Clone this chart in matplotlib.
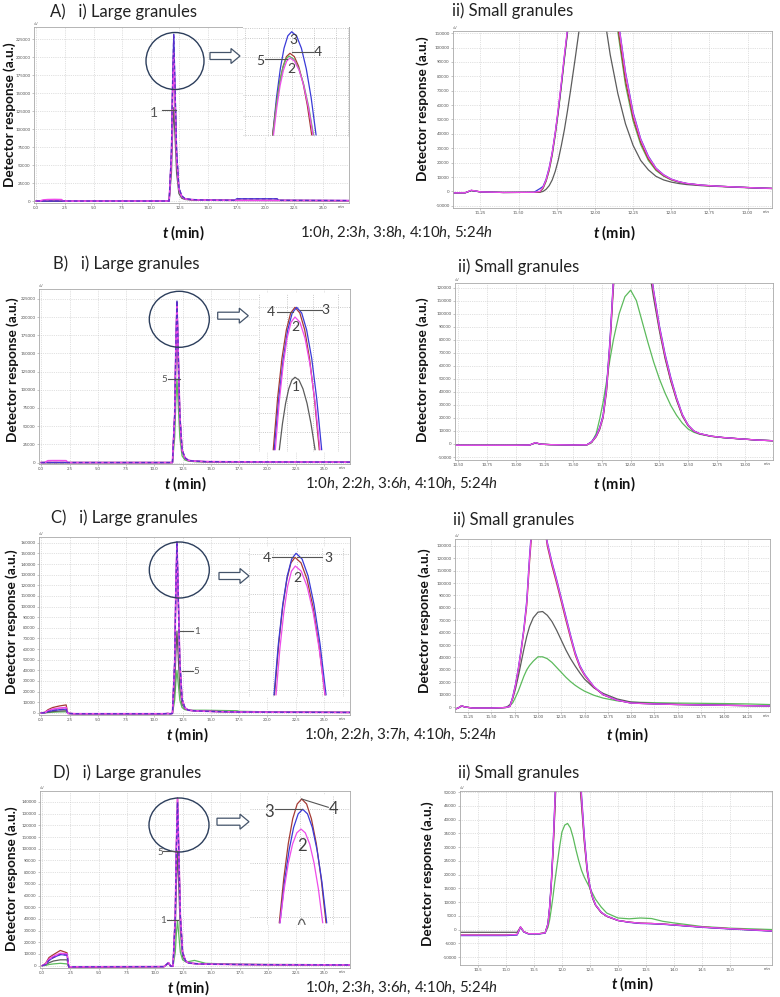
import matplotlib
matplotlib.use("Agg")
import matplotlib.pyplot as plt
from matplotlib.patches import Ellipse, FancyArrow
from matplotlib.lines import Line2D
from matplotlib.transforms import Affine2D, blended_transform_factory

# ── Fonts ─────────────────────────────────────────────────────────────────────
plt.rcParams["font.family"] = ["Lato", "DejaVu Sans"]
plt.rcParams["mathtext.fontset"] = "custom"
plt.rcParams["mathtext.rm"] = "Lato"
plt.rcParams["mathtext.it"] = "Lato:italic"
plt.rcParams["mathtext.bf"] = "Lato:bold"
plt.rcParams["mathtext.bfit"] = "Lato:italic:bold"

# ── Data: large granules (full run, 0-27 min) ────────────────────────────────
t_large = [0.0, 0.3, 0.6, 1.0, 1.6, 2.2, 2.35, 3.0, 10.8, 11.2, 11.4, 11.6, 11.8, 11.9,
           12.0, 12.1, 12.25, 12.45, 12.7, 13.0, 13.5, 14.5, 17.3, 17.5, 21.0, 21.2, 27.5]

a_large = {
    1: [0, 0, 0, 0, 0, 0, 0, 0, 0, 0, 0, 0, 39000, 94000, 130000, 94000, 39000, 10400, 3900, 2200, 1500, 1000, 800, 800, 700, 700, 500],
    2: [0, 0, 1500, 2000, 2200, 2000, 0, 0, 0, 0, 0, 0, 62000, 148000, 206000, 148000, 62000, 16500, 6200, 3000, 2000, 1400, 1000, 1000, 900, 900, 600],
    3: [0, 0, 0, 0, 0, 0, 0, 0, 0, 0, 0, 0, 70000, 167000, 232000, 167000, 70000, 18600, 7000, 3200, 2200, 1500, 1100, 3200, 3200, 1000, 700],
    4: [0, 0, 0, 0, 0, 0, 0, 0, 0, 0, 0, 0, 63000, 151000, 210000, 151000, 63000, 16800, 6300, 3000, 2000, 1400, 1000, 1000, 900, 900, 600],
    5: [0, 0, 0, 0, 0, 0, 0, 0, 0, 0, 0, 0, 61500, 147600, 205000, 147600, 61500, 16400, 6100, 3000, 2000, 1400, 1000, 1000, 900, 900, 600],
}
b_large = {
    1: [0, 0, 0, 0, 0, 0, 0, 0, 0, 0, 0, 0, 57000, 137000, 190000, 137000, 57000, 15200, 5700, 2500, 1500, 1000, 700, 700, 600, 600, 400],
    2: [0, 0, 2500, 2600, 2600, 2500, 0, 0, 0, 0, 0, 0, 65400, 157000, 218000, 157000, 65400, 17400, 6500, 3000, 2000, 1300, 1000, 1000, 800, 800, 500],
    3: [0, 0, 0, 0, 0, 0, 0, 0, 0, 0, 0, 0, 66600, 160000, 222000, 160000, 66600, 17800, 6700, 3000, 2000, 1300, 1000, 1000, 800, 800, 500],
    4: [0, 0, 0, 0, 0, 0, 0, 0, 0, 0, 0, 0, 66300, 159000, 221000, 159000, 66300, 17700, 6600, 3000, 2000, 1300, 1000, 1000, 800, 800, 500],
    5: [0, 0, 0, 0, 0, 0, 0, 0, 0, 0, 0, 0, 34500, 82800, 115000, 82800, 34500, 9200, 3500, 2000, 1300, 900, 700, 700, 600, 600, 400],
}
c_large = {
    1: [0, 100, 600, 1200, 1700, 2000, -500, -800, -800, -600, -800, -500, 23100, 55400, 77000, 55400, 23100, 8000, 4000, 2500, 2000, 1500, 800, 800, 600, 600, 400],
    2: [0, 300, 2000, 3500, 4500, 5000, -500, -800, -800, -600, -800, -500, 48000, 115200, 160000, 115200, 48000, 12800, 4800, 2500, 2000, 1500, 800, 800, 600, 600, 400],
    3: [0, 200, 1200, 2200, 3000, 3500, -500, -800, -800, -600, -800, -500, 48300, 115900, 161000, 115900, 48300, 12900, 4800, 2500, 2000, 1500, 800, 800, 600, 600, 400],
    4: [0, 500, 3000, 5000, 6500, 7500, -500, -800, -800, -600, -800, -500, 47400, 113800, 158000, 113800, 47400, 12600, 4700, 2500, 2000, 1500, 800, 800, 600, 600, 400],
    5: [0, 0, 300, 600, 900, 1000, -500, -800, -800, -600, -800, -500, 12000, 28800, 40000, 28800, 12000, 5000, 3000, 2500, 2500, 2500, 2000, 1500, 800, 800, 500],
}
d_large = {
    1: [0, 200, 1000, 1500, 2000, 1500, -800, -800, -800, 2000, -500, -500, 11500, 27700, 38500, 27700, 11500, 5000, 3500, 3500, 4500, 2000, 1200, 1200, 1000, 1000, 800],
    2: [0, 1500, 5500, 8000, 10500, 10000, -1000, -1000, -800, 2500, -500, -500, 42900, 103000, 143000, 103000, 42900, 11400, 4300, 2200, 1800, 1300, 1000, 1000, 800, 800, 600],
    3: [0, 1000, 4500, 7000, 9500, 9000, -1000, -1000, -800, 2500, -500, -500, 42000, 100800, 140000, 100800, 42000, 11200, 4200, 2200, 1800, 1300, 1000, 1000, 800, 800, 600],
    4: [0, 2000, 7000, 9500, 13000, 11000, -1500, -1500, -800, 2500, -500, -500, 43000, 103300, 143500, 103300, 43000, 11500, 4300, 2200, 1800, 1300, 1000, 1000, 800, 800, 600],
    5: [0, 500, 2500, 4000, 5000, 5000, -800, -800, -800, 2000, -500, -500, 29400, 70600, 98000, 70600, 29400, 7800, 3500, 2200, 1800, 1300, 1000, 1000, 800, 800, 600],
}

# ── Data: small granules (zoom on the main peak) ─────────────────────────────
a_small_t = [11.07, 11.15, 11.19, 11.25, 11.4, 11.6, 11.64, 11.66, 11.68, 11.70, 11.72, 11.74, 11.76,
             11.78, 11.8, 11.82, 11.84, 11.87, 11.9, 11.95, 12.0, 12.05, 12.1, 12.15, 12.2, 12.25,
             12.3, 12.35, 12.4, 12.45, 12.5, 12.55, 12.6, 12.7, 12.8, 12.9, 13.05, 13.16]
a_small = {
    1: [-1000, -900, 600, -300, -700, -600, -500, 0, 1500, 4000, 8000, 14000, 22000, 32000, 43000, 56000, 70000, 92000, 115000, 140000, 145000, 130000, 95000, 68000, 47000, 32000, 21500, 15000, 10500, 8000, 6500, 5500, 4800, 4000, 3500, 3000, 2400, 2000],
    2: [-1000, -900, 900, -300, -700, -600, 0, 3000, 8000, 16000, 27000, 41000, 58000, 76000, 95000, 113000, 130000, 155000, 175000, 205000, 220000, 205000, 170000, 120000, 82000, 54000, 36000, 24000, 16000, 11500, 8500, 6800, 5600, 4400, 3700, 3200, 2500, 2100],
    3: [-1000, -900, 700, -300, -700, -600, 2000, 3500, 8500, 16500, 27000, 41000, 57000, 75000, 94000, 112000, 129000, 154000, 175000, 205000, 222000, 207000, 172000, 121000, 83000, 55000, 36500, 24500, 16200, 11600, 8600, 6800, 5600, 4400, 3700, 3200, 2500, 2100],
    4: [-1000, -900, 700, -300, -700, -600, -300, 2500, 7500, 15000, 26000, 40000, 56000, 74000, 93000, 111000, 128000, 152000, 172000, 200000, 215000, 200000, 163000, 114000, 77000, 51000, 34000, 22500, 15200, 11000, 8200, 6600, 5500, 4300, 3700, 3200, 2500, 2100],
    5: [-1000, -900, 700, -300, -700, -600, -500, 2000, 7000, 14500, 25000, 39000, 55000, 73000, 92000, 110000, 127000, 150000, 170000, 198000, 212000, 196000, 160000, 111000, 74000, 49000, 32500, 21500, 14600, 10600, 8000, 6500, 5400, 4300, 3700, 3200, 2500, 2100],
}
b_small_t = [10.47, 11.0, 11.12, 11.17, 11.22, 11.3, 11.5, 11.62, 11.66, 11.70, 11.73, 11.76, 11.79,
             11.82, 11.85, 11.9, 11.95, 12.0, 12.05, 12.1, 12.15, 12.2, 12.25, 12.3, 12.35, 12.4,
             12.45, 12.5, 12.55, 12.6, 12.7, 12.8, 12.9, 13.1, 13.24]
b_small = {
    1: [-1000, -1000, -800, 800, -200, -500, -800, -600, 1200, 5500, 11000, 20000, 40000, 75000, 120000, 160000, 183000, 190000, 182000, 165000, 140000, 112000, 87000, 65500, 48000, 33500, 21500, 14000, 9800, 7800, 5900, 4900, 4200, 3000, 2500],
    2: [-1000, -1000, -800, 1000, -200, -500, -800, -600, 1500, 6000, 12000, 21000, 42000, 78000, 125000, 170000, 200000, 210000, 200000, 175000, 148000, 117000, 90000, 68000, 50000, 35000, 22500, 14500, 10000, 8000, 6000, 5000, 4300, 3000, 2500],
    3: [-1000, -1000, -800, 900, -200, -500, -800, -600, 1800, 6500, 12500, 22000, 44000, 80000, 127000, 172000, 202000, 212000, 202000, 177000, 149000, 118000, 91000, 69000, 51000, 35500, 22800, 14600, 10000, 8000, 6000, 5000, 4300, 3000, 2500],
    4: [-1000, -1000, -800, 900, -200, -500, -800, -600, 1500, 6000, 12000, 21000, 42000, 77000, 124000, 169000, 199000, 211000, 199000, 174000, 147000, 116000, 89000, 67000, 49000, 34500, 22000, 14300, 9900, 7900, 6000, 5000, 4300, 3000, 2500],
    5: [-1000, -1000, -800, 900, -200, -500, -800, -600, 1000, 8000, 19000, 32000, 48000, 65000, 80000, 100000, 113000, 118000, 110000, 94000, 78000, 63000, 50000, 39000, 29500, 22000, 16000, 11500, 9000, 7500, 5800, 4900, 4300, 3000, 2500],
}
c_small_t = [11.11, 11.14, 11.18, 11.22, 11.3, 11.5, 11.62, 11.66, 11.7, 11.73, 11.76, 11.79, 11.82,
             11.85, 11.88, 11.91, 11.95, 12.0, 12.05, 12.1, 12.15, 12.2, 12.25, 12.3, 12.35, 12.4,
             12.45, 12.5, 12.6, 12.7, 12.85, 13.0, 13.25, 13.5, 13.75, 14.0, 14.25, 14.49]
c_small = {
    1: [-1500, -1000, 900, 0, -800, -800, -500, -300, 2000, 7000, 15000, 25000, 36000, 47000, 57000, 65000, 72000, 76500, 77000, 74000, 69000, 62000, 54000, 46000, 39000, 33000, 27500, 22500, 15500, 11000, 6500, 4000, 2800, 2200, 1800, 1500, 1200, 1000],
    2: [-1500, -1000, 1000, 0, -800, -800, -500, -300, 500, 8000, 18000, 31000, 46000, 63000, 84000, 120000, 160000, 175000, 160000, 132000, 116000, 102000, 87000, 72000, 57000, 43000, 33000, 26000, 16500, 10000, 5500, 3200, 2500, 2000, 1700, 1400, 1100, 900],
    3: [-1500, -1000, 900, 0, -800, -800, -500, -300, 600, 8500, 18500, 31500, 47000, 64000, 86000, 122000, 162000, 176000, 161000, 133000, 117000, 103000, 88000, 73000, 58000, 44000, 33500, 26500, 16500, 10000, 5500, 3200, 2500, 2000, 1700, 1400, 1100, 900],
    4: [-1500, -1000, 900, 0, -800, -800, -500, -300, 500, 7500, 17500, 30000, 45000, 62000, 82000, 117000, 156000, 172000, 157000, 130000, 114000, 100000, 85000, 70000, 55500, 42000, 32000, 25500, 16000, 9800, 5500, 3200, 2500, 2000, 1700, 1400, 1100, 900],
    5: [-1500, -1000, 900, 0, -800, -800, -500, -300, 1000, 3500, 8000, 13000, 19000, 25000, 30000, 33500, 37000, 40500, 40500, 39000, 36000, 32000, 28000, 24000, 20500, 17500, 15000, 12800, 9500, 7200, 5000, 4000, 3500, 3200, 3000, 2800, 2500, 2000],
}
d_small_t = [10.18, 11.0, 11.2, 11.26, 11.32, 11.4, 11.6, 11.7, 11.75, 11.78, 11.81, 11.84, 11.87,
             11.9, 11.95, 12.0, 12.05, 12.1, 12.15, 12.2, 12.25, 12.3, 12.35, 12.4, 12.45, 12.5,
             12.55, 12.6, 12.7, 12.8, 13.0, 13.2, 13.4, 13.6, 13.8, 14.0, 14.5, 15.0, 15.75]
d_small = {
    1: [-2000, -2000, -1800, 800, -800, -1500, -1500, -1200, 800, 3500, 7500, 12000, 17000, 21500, 29000, 35500, 38000, 38600, 37000, 33500, 29000, 25000, 21500, 19000, 17000, 15000, 13000, 11000, 8200, 6000, 4200, 3900, 4200, 4000, 3000, 2400, 1100, 500, 0],
    2: [-2000, -2000, -1800, 1000, -800, -1500, -1500, -1200, 2000, 8000, 17000, 29000, 44000, 60000, 90000, 120000, 130000, 125000, 110000, 95000, 78000, 62000, 48000, 33000, 22000, 15500, 11500, 9000, 6300, 4900, 3300, 2700, 2300, 2200, 2000, 1700, 900, 300, -500],
    3: [-2200, -2200, -2000, 900, -900, -1600, -1600, -1300, 2200, 8500, 17500, 30000, 45000, 61000, 91000, 121000, 131000, 126000, 111000, 96000, 79000, 63000, 49000, 34000, 22500, 15700, 11600, 9000, 6300, 4900, 3300, 2600, 2200, 2100, 1900, 1600, 800, 200, -600],
    4: [-2000, -2000, -1800, 900, -800, -1500, -1500, -1200, 1900, 7800, 16500, 28500, 43000, 59000, 89000, 119000, 129000, 124000, 109000, 94000, 77000, 61000, 47000, 32500, 21700, 15300, 11400, 8900, 6200, 4800, 3300, 2700, 2300, 2200, 2000, 1700, 900, 300, -500],
    5: [-1000, -1000, -1000, 900, -800, -1500, -1500, -1200, 1800, 7500, 16000, 27500, 41000, 56000, 84000, 110000, 118000, 113000, 100000, 88000, 73000, 58000, 45000, 31500, 21000, 15000, 11200, 8800, 6200, 4800, 3300, 2700, 2300, 2200, 2000, 1700, 900, 300, -500],
}

# ── Data: magnified peak tops (inset units 0-100) ────────────────────────────
a_zoom = {
    3: ([28.0, 31.6, 35.2, 38.7, 42.3, 45.9, 50.5, 55.1, 59.7, 64.3, 68.9], [2.0, 35.7, 62.0, 80.7, 92.0, 95.7, 92.0, 80.7, 62.0, 35.7, 2.0]),
    4: ([28.0, 31.3, 34.5, 37.8, 41.0, 44.3, 48.4, 52.5, 56.6, 60.7, 64.8], [2.0, 28.7, 49.4, 64.2, 73.1, 76.1, 73.1, 64.2, 49.4, 28.7, 2.0]),
    5: ([28.3, 31.3, 34.3, 37.4, 40.4, 43.4, 48.0, 52.6, 57.3, 61.9, 66.5], [2.0, 27.8, 47.8, 62.1, 70.7, 73.6, 70.7, 62.1, 47.8, 27.8, 2.0]),
    2: ([28.8, 31.9, 35.0, 38.1, 41.2, 44.3, 48.6, 53.0, 57.3, 61.7, 66.0], [2.0, 27.1, 46.7, 60.6, 69.0, 71.8, 69.0, 60.6, 46.7, 27.1, 2.0]),
}
b_zoom = {
    1: ([23.2, 26.6, 30.0, 33.4, 36.8, 40.2, 44.6, 48.9, 53.3, 57.6, 62.0], [1.5, 17.9, 30.6, 39.7, 45.2, 47.0, 45.2, 39.7, 30.6, 17.9, 1.5]),
    4: ([16.6, 21.3, 26.0, 30.8, 35.5, 40.2, 45.5, 50.8, 56.0, 61.3, 66.6], [1.5, 33.7, 58.8, 76.7, 87.4, 91.0, 87.4, 76.7, 58.8, 33.7, 1.5]),
    3: ([17.7, 22.6, 27.5, 32.3, 37.2, 42.1, 47.5, 52.9, 58.4, 63.8, 69.2], [1.5, 33.7, 58.8, 76.7, 87.4, 91.0, 87.4, 76.7, 58.8, 33.7, 1.5]),
    2: ([18.8, 23.1, 27.4, 31.6, 35.9, 40.2, 45.6, 51.1, 56.5, 62.0, 67.4], [1.5, 31.5, 54.9, 71.6, 81.6, 84.9, 81.6, 71.6, 54.9, 31.5, 1.5]),
}
c_zoom = {
    4: ([26.0, 30.0, 34.0, 38.1, 42.1, 46.1, 52.0, 57.9, 63.7, 69.6, 75.5], [1.5, 34.5, 60.1, 78.4, 89.4, 93.1, 89.4, 78.4, 60.1, 34.5, 1.5]),
    3: ([25.5, 29.8, 34.1, 38.5, 42.8, 47.1, 53.0, 58.9, 64.7, 70.6, 76.5], [1.5, 35.5, 61.8, 80.7, 92.0, 95.8, 92.0, 80.7, 61.8, 35.5, 1.5]),
    2: ([27.5, 31.3, 35.1, 38.8, 42.6, 46.4, 52.2, 58.0, 63.9, 69.7, 75.5], [1.5, 32.4, 56.4, 73.6, 83.9, 87.3, 83.9, 73.6, 56.4, 32.4, 1.5]),
}
d_zoom = {
    5: ([48.5, 50.0, 51.7, 53.4, 55.0], [0.5, 3.5, 4.6, 3.5, 0.5]),
    4: ([29.3, 33.8, 38.3, 42.7, 47.2, 51.7, 56.6, 61.4, 66.3, 71.1, 76.0], [1.8, 36.0, 62.7, 81.7, 93.1, 96.9, 93.1, 81.7, 62.7, 36.0, 1.8]),
    3: ([30.0, 34.5, 39.1, 43.6, 48.2, 52.7, 57.5, 62.3, 67.1, 71.9, 76.7], [1.8, 33.2, 57.6, 75.0, 85.5, 89.0, 85.5, 75.0, 57.6, 33.2, 1.8]),
    2: ([30.0, 34.2, 38.4, 42.6, 46.8, 51.0, 55.3, 59.7, 64.0, 68.4, 72.7], [1.8, 27.7, 47.9, 62.3, 70.9, 73.8, 70.9, 62.3, 47.9, 27.7, 1.8]),
}

legends = ["1:0$\\it{h}$, 2:3$\\it{h}$, 3:8$\\it{h}$, 4:10$\\it{h}$, 5:24$\\it{h}$",
           "1:0$\\it{h}$, 2:2$\\it{h}$, 3:6$\\it{h}$, 4:10$\\it{h}$, 5:24$\\it{h}$",
           "1:0$\\it{h}$, 2:2$\\it{h}$, 3:7$\\it{h}$, 4:10$\\it{h}$, 5:24$\\it{h}$",
           "1:0$\\it{h}$, 2:3$\\it{h}$, 3:6$\\it{h}$, 4:10$\\it{h}$, 5:24$\\it{h}$"]

# ── Colours ───────────────────────────────────────────────────────────────────
GRAY, PINK, BLUE, RED, GREEN = "#5c5c5c", "#ee4cea", "#3a3ad8", "#a53b34", "#5cba5c"
COLS = {1: GRAY, 2: PINK, 3: BLUE, 4: RED, 5: GREEN}
COLS_D = {1: GREEN, 2: PINK, 3: BLUE, 4: RED, 5: GRAY}
NAVY = "#2c3e5c"

# ── Figure + pixel helpers ────────────────────────────────────────────────────
W, H = 780, 997
fig = plt.figure(figsize=(W / 100, H / 100), dpi=100)
px = Affine2D().scale(1 / W, -1 / H).translate(0, 1) + fig.transFigure


def box(l, t, r, b):
    return [l / W, 1 - b / H, (r - l) / W, (b - t) / H]


def ptext(x, y, s, **kw):
    kw.setdefault("va", "center")
    kw.setdefault("zorder", 6)
    fig.text(x, y, s, transform=px, **kw)


def pline(xs, ys, color="#555555", lw=0.8):
    fig.add_artist(Line2D(xs, ys, transform=px, color=color, lw=lw, zorder=6))


def chrom(bx, t, traces, cols, xlim, ylim, xticks, xfmt, yticks, min_x, full_run=False):
    ax = fig.add_axes(box(*bx))
    for k in (5, 1, 4, 3, 2):
        ax.plot(t, traces[k], color=cols[k], lw=1.2 if (full_run and k == 2) else 0.9)
    if full_run:
        # blue trace shows through the magenta one as a purple dash
        ax.plot(t, traces[3], color="#5a2fc8", lw=0.9, ls=(0, (3, 2)))
    ax.set_xlim(xlim)
    ax.set_ylim(ylim)
    ax.set_xticks(xticks, [xfmt.format(v) for v in xticks])
    ax.set_yticks(yticks, [f"{v:d}" for v in yticks])
    ax.tick_params(labelsize=3.2, labelcolor="#555555", length=1.5, width=0.4,
                   color="#999999", pad=1)
    ax.grid(True, ls=":", lw=0.5, color="#c4c4c4")
    for s in ax.spines.values():
        s.set_color("#a8a8a8")
        s.set_linewidth(0.6)
    ax.text(0.0, 1.004, "uV", transform=ax.transAxes, fontsize=2.8, color="#777777", va="bottom")
    ax.text(min_x, -0.012, "min", transform=blended_transform_factory(ax.transData, ax.transAxes),
            fontsize=3.2, color="#555555", ha="center", va="top")
    return ax


def inset(bx, gx, gy, curves, cols):
    ax = fig.add_axes(box(*bx), zorder=1)
    ax.set_xlim(0, 100)
    ax.set_ylim(0, 100)
    ax.set_xticks([])
    ax.set_yticks([])
    for s in ax.spines.values():
        s.set_visible(False)
    for v in gx:
        ax.axvline(v, ls=":", lw=0.6, color="#b8b8b8")
    for v in gy:
        ax.axhline(v, ls=":", lw=0.6, color="#b8b8b8")
    for k, (x, y) in curves.items():
        ax.plot(x, y, color=cols[k], lw=0.9)
    return ax


def callout(cx, cy, rx, ry, ax0, ax1, ay):
    fig.add_artist(Ellipse((cx, cy), 2 * rx, 2 * ry, transform=px, fill=False,
                           ec=NAVY, lw=1.0, zorder=4))
    fig.add_artist(FancyArrow(ax0, ay, ax1 - ax0, 0, width=7, head_width=15, head_length=9,
                              length_includes_head=True, transform=px, fc="white",
                              ec="#44546a", lw=0.9, zorder=4))


lg_xt = [0.0, 2.5, 5.0, 7.5, 10.0, 12.5, 15.0, 17.5, 20.0, 22.5, 25.0]
LGX = (-0.2, 27.3)

# ── Row A ─────────────────────────────────────────────────────────────────────
chrom((34, 27, 349, 203), t_large, a_large, COLS, LGX, (-2700, 242000), lg_xt, "{:.1f}",
      list(range(0, 225001, 25000)), 26.6, full_run=True)
chrom((453, 31, 772, 208), a_small_t, a_small, COLS, (11.07, 13.16), (-11500, 111500),
      [11.25, 11.5, 11.75, 12.0, 12.25, 12.5, 12.75, 13.0], "{:.2f}",
      list(range(-10000, 110001, 10000)), 13.12)
inset((243, 27, 349, 137), [2, 24, 46, 67, 88, 99], [2, 19, 38, 55, 73, 90, 99], a_zoom, COLS)
callout(175, 61, 29, 28.5, 210, 240, 56)
pline([162, 176], [110.3, 110.3]); ptext(154, 112.7, "1", fontsize=10, color="#555555", ha="center")
pline([292, 313], [52, 52]); ptext(318, 52, "4", fontsize=10, color="#404040", ha="center")
pline([265, 287], [59, 59]); ptext(260, 61, "5", fontsize=10, color="#404040", ha="center")
ptext(293, 40, "3", fontsize=10, color="#404040", ha="center")
ptext(291, 69, "2", fontsize=10, color="#404040", ha="center")

# ── Row B ─────────────────────────────────────────────────────────────────────
chrom((39, 289, 350, 464), t_large, b_large, COLS, LGX, (-2000, 238500), lg_xt, "{:.1f}",
      list(range(0, 225001, 25000)), 26.6, full_run=True)
chrom((455, 283, 773, 460), b_small_t, b_small, COLS, (10.47, 13.24), (-12300, 123500),
      [10.5, 10.75, 11.0, 11.25, 11.5, 11.75, 12.0, 12.25, 12.5, 12.75, 13.0], "{:.2f}",
      list(range(-10000, 120001, 10000)), 13.19)
inset((258, 293, 350, 452), [1, 31, 60, 87], [12.6, 24.5, 34.6, 46.5, 57.2, 68.6, 79.9, 91.2],
      b_zoom, COLS)
callout(179.3, 319.3, 30, 28, 217.7, 248.3, 315.7)
pline([167.7, 180], [378.7, 378.7]); ptext(164, 379, "5", fontsize=7, color="#555555", ha="center")
pline([276.7, 293], [311.7, 311.7]); ptext(270.7, 312, "4", fontsize=10, color="#404040", ha="center")
pline([300, 321.7], [310, 310]); ptext(325.5, 310, "3", fontsize=10, color="#404040", ha="center")
ptext(295.7, 326.7, "2", fontsize=10, color="#404040", ha="center")
ptext(295.7, 387.3, "1", fontsize=10, color="#404040", ha="center")

# ── Row C ─────────────────────────────────────────────────────────────────────
chrom((39, 537, 350, 715), t_large, c_large, COLS, LGX, (-2000, 165500), lg_xt, "{:.1f}",
      list(range(0, 160001, 10000)), 26.6, full_run=True)
chrom((455, 539, 770, 712), c_small_t, c_small, COLS, (11.11, 14.49), (-4000, 135500),
      [11.25, 11.5, 11.75, 12.0, 12.25, 12.5, 12.75, 13.0, 13.25, 13.5, 13.75, 14.0, 14.25], "{:.2f}",
      list(range(0, 130001, 10000)), 14.45)
inset((248, 547, 350, 697), [0.5, 24.5, 48, 72.5, 93], [4.7, 18, 31.3, 44.7, 56.7, 68.7, 81.3, 95.3],
      c_zoom, COLS)
callout(179.3, 570, 30, 28, 219, 249, 576)
pline([180, 193.3], [630.7, 630.7]); ptext(196.7, 631.3, "1", fontsize=7, color="#555555", ha="center")
pline([181.7, 193.3], [671, 671]); ptext(196.7, 671, "5", fontsize=7, color="#555555", ha="center")
pline([271.7, 293.3], [557.3, 557.3]); ptext(266.7, 558.3, "4", fontsize=10, color="#404040", ha="center")
pline([296.7, 321.7], [557.3, 557.3]); ptext(328.3, 558.3, "3", fontsize=10, color="#404040", ha="center")
ptext(297.7, 578.3, "2", fontsize=10, color="#404040", ha="center")

# ── Row D ─────────────────────────────────────────────────────────────────────
chrom((40, 791, 350, 968), t_large, d_large, COLS_D, LGX, (-2000, 149400), lg_xt, "{:.1f}",
      list(range(0, 140001, 10000)), 26.6, full_run=True)
chrom((460, 791, 772, 965), d_small_t, d_small, COLS_D, (10.18, 15.75), (-12900, 50400),
      [10.5, 11.0, 11.5, 12.0, 12.5, 13.0, 13.5, 14.0, 14.5, 15.0], "{:.1f}",
      list(range(-10000, 50001, 5000)), 15.66)
inset((250, 795, 350, 925), [17, 50, 83], [6.2, 26.9, 47.7, 67.7, 89.2], d_zoom, COLS_D)
callout(179, 825, 30, 27, 217, 249, 821.7)
pline([163, 176.7], [851.3, 851.3]); ptext(160, 852.7, "5", fontsize=7, color="#555555", ha="center")
pline([166.7, 178.3], [920, 920]); ptext(163.3, 920.7, "1", fontsize=7, color="#555555", ha="center")
pline([275, 301.7], [809.3, 809.3]); ptext(269.3, 811.7, "3", fontsize=12, color="#404040", ha="center")
pline([301.7, 328.3], [799, 807.3]); ptext(333.3, 809, "4", fontsize=12, color="#404040", ha="center")
ptext(301.7, 846, "2", fontsize=12, color="#404040", ha="center")

# ── Titles, axis labels, legends ─────────────────────────────────────────────
titles_l = [("A)   i) Large granules", 50, 12), ("B)   i) Large granules", 53, 264),
            ("C)   i) Large granules", 51, 518), ("D)   i) Large granules", 53, 773)]
titles_r = [(452, 11), (458, 267), (453, 520), (458, 773)]
for (s, x, y), (xr, yr) in zip(titles_l, titles_r):
    ptext(x, y, s, fontsize=12, color="#222222")
    ptext(xr, yr, "ii) Small granules", fontsize=12, color="#222222")

ylab = [(10, 115), (423, 109), (13, 370), (423, 370), (12, 622), (425, 621), (12, 879), (428, 874)]
for x, y in ylab:
    ptext(x, y, "Detector response (a.u.)", fontsize=9.8, fontweight="bold", rotation=90,
          ha="center", color="#111111")

xlab = [(183, 233), (614, 233), (185, 484), (614, 484), (187, 735), (627, 735), (188, 988), (632, 984)]
for x, y in xlab:
    ptext(x, y, "$\\mathbfit{t}$ (min)", fontsize=10.5, fontweight="bold", ha="center", color="#111111")

leg_pos = [(300, 233), (305, 484), (304, 735), (305, 988)]
for s, (x, y) in zip(legends, leg_pos):
    ptext(x, y, s, fontsize=10.8, ha="left", color="#222222")

fig.savefig("out.png", dpi=100)
